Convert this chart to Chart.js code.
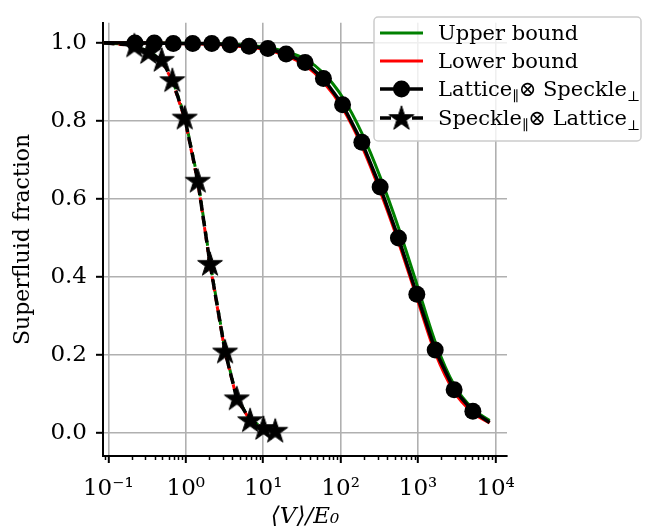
<!DOCTYPE html>
<html>
<head>
<meta charset="utf-8">
<script src="https://cdn.jsdelivr.net/npm/chart.js@4.4.0/dist/chart.umd.min.js"></script>
<style>
  html, body { margin: 0; padding: 0; background: #fff; }
</style>
</head>
<body>
<canvas id="chart" width="655" height="531"></canvas>
<script>
const xTicks = [0.1, 1, 10, 100, 1000, 10000];
const xTickLabels = ['10⁻¹', '10⁰', '10¹', '10²', '10³', '10⁴'];
const yTicks = [0, 0.2, 0.4, 0.6, 0.8, 1.0];

// Lattice_par x Speckle_perp (circles); first/last points have no marker
const latticeX = [0.087, 0.221, 0.393, 0.691, 1.23, 2.17, 3.73, 6.57, 11.5, 19.8, 34.8, 60, 106, 188, 324, 558, 964, 1664, 2925, 5104, 8400];
const latticeY = [1.0, 0.999, 0.999, 0.998, 0.998, 0.998, 0.995, 0.991, 0.985, 0.971, 0.949, 0.908, 0.841, 0.745, 0.630, 0.499, 0.355, 0.212, 0.110, 0.055, 0.026];
const latticeUpper = [1.0, 1.0, 0.999, 0.999, 0.998, 0.998, 0.996, 0.993, 0.988, 0.977, 0.958, 0.922, 0.860, 0.768, 0.656, 0.526, 0.381, 0.233, 0.122, 0.061, 0.031];
const latticeLower = [1.0, 0.999, 0.999, 0.998, 0.997, 0.996, 0.993, 0.988, 0.981, 0.966, 0.942, 0.899, 0.832, 0.735, 0.619, 0.489, 0.346, 0.205, 0.105, 0.051, 0.025];

// Speckle_par x Lattice_perp (stars); first point has no marker
const speckleX = [0.087, 0.217, 0.329, 0.49, 0.671, 0.97, 1.43, 2.06, 3.22, 4.56, 6.78, 10.07, 14.3];
const speckleY = [1.0, 0.993, 0.976, 0.956, 0.904, 0.808, 0.646, 0.433, 0.208, 0.088, 0.032, 0.012, 0.005];
const speckleUpper = [1.0, 0.994, 0.978, 0.958, 0.907, 0.811, 0.650, 0.437, 0.211, 0.090, 0.033, 0.013, 0.006];
const speckleLower = [1.0, 0.992, 0.975, 0.954, 0.902, 0.805, 0.643, 0.430, 0.206, 0.087, 0.031, 0.011, 0.005];

const FONT = '"DejaVu Serif", "Liberation Serif", serif';
const GREEN = '#008000';
const RED = '#ff0000';

// filled five point star used as marker
const starImg = document.createElement('canvas');
starImg.width = 30;
starImg.height = 30;
(function () {
  const c = starImg.getContext('2d');
  const R = 13, r = R * 0.382;
  c.beginPath();
  for (let i = 0; i < 10; i++) {
    const a = -Math.PI / 2 + i * Math.PI / 5;
    const rad = i % 2 === 0 ? R : r;
    const px = 15 + rad * Math.cos(a), py = 15.8 + rad * Math.sin(a);
    if (i === 0) c.moveTo(px, py); else c.lineTo(px, py);
  }
  c.closePath();
  c.fillStyle = '#000';
  c.fill();
  c.lineWidth = 1;
  c.strokeStyle = '#000';
  c.stroke();
})();

const pts = (xs, ys) => xs.map((x, i) => ({ x: x, y: ys[i] }));
const latticeRadius = latticeX.map((_, i) => (i === 0 || i === latticeX.length - 1) ? 0 : 8.5);
const speckleRadius = speckleX.map((_, i) => i === 0 ? 0 : 10);

const minorTicks = {
  id: 'minorTicks',
  afterDraw(chart) {
    const xs = chart.scales.x;
    const ctx = chart.ctx;
    const y0 = chart.chartArea.bottom;
    ctx.save();
    ctx.strokeStyle = '#000';
    ctx.lineWidth = 1.5;
    for (let n = -2; n <= 4; n++) {
      for (let m = 2; m <= 9; m++) {
        const v = m * Math.pow(10, n);
        if (v < xs.min || v > xs.max) continue;
        const px = Math.round(xs.getPixelForValue(v)) + 0.5;
        ctx.beginPath();
        ctx.moveTo(px, y0);
        ctx.lineTo(px, y0 + 4);
        ctx.stroke();
      }
    }
    ctx.restore();
  }
};

function drawRich(ctx, parts, x, y) {
  for (const [txt, sub] of parts) {
    ctx.font = (sub ? '14px ' : '21px ') + FONT;
    ctx.fillText(txt, x, sub ? y + 5 : y);
    x += ctx.measureText(txt).width;
  }
}

const boxLegend = {
  id: 'boxLegend',
  afterDraw(chart) {
    const ctx = chart.ctx;
    ctx.save();
    ctx.beginPath();
    ctx.roundRect(374, 17, 267, 124, 4);
    ctx.fillStyle = 'rgba(255,255,255,0.8)';
    ctx.fill();
    ctx.strokeStyle = '#cccccc';
    ctx.lineWidth = 1.5;
    ctx.stroke();

    const hx0 = 380, hx1 = 423, hxm = 401.5, tx = 438;
    const rows = [33, 61, 89, 118];
    ctx.lineWidth = 3;
    ctx.strokeStyle = GREEN;
    ctx.beginPath(); ctx.moveTo(hx0, rows[0]); ctx.lineTo(hx1, rows[0]); ctx.stroke();
    ctx.strokeStyle = RED;
    ctx.beginPath(); ctx.moveTo(hx0, rows[1]); ctx.lineTo(hx1, rows[1]); ctx.stroke();
    ctx.strokeStyle = '#000';
    ctx.lineWidth = 3.5;
    ctx.beginPath(); ctx.moveTo(hx0, rows[2]); ctx.lineTo(hx1, rows[2]); ctx.stroke();
    ctx.fillStyle = '#000';
    ctx.beginPath(); ctx.arc(hxm, rows[2], 8.5, 0, Math.PI * 2); ctx.fill();
    ctx.setLineDash([11, 5]);
    ctx.beginPath(); ctx.moveTo(hx0, rows[3]); ctx.lineTo(hx1, rows[3]); ctx.stroke();
    ctx.setLineDash([]);
    ctx.drawImage(starImg, hxm - 15, rows[3] - 15);

    ctx.fillStyle = '#000';
    ctx.textBaseline = 'alphabetic';
    ctx.textAlign = 'left';
    drawRich(ctx, [['Upper bound', 0]], tx, rows[0] + 7);
    drawRich(ctx, [['Lower bound', 0]], tx, rows[1] + 7);
    drawRich(ctx, [['Lattice', 0], ['∥', 1], ['⊗ Speckle', 0], ['⊥', 1]], tx, rows[2] + 7);
    drawRich(ctx, [['Speckle', 0], ['∥', 1], ['⊗ Lattice', 0], ['⊥', 1]], tx, rows[3] + 7);
    ctx.restore();
  }
};

new Chart(document.getElementById('chart').getContext('2d'), {
  type: 'line',
  data: {
    datasets: [
      {
        label: 'Upper bound', data: pts(latticeX, latticeUpper), borderColor: GREEN,
        borderWidth: 3, pointRadius: 0, cubicInterpolationMode: 'monotone', order: 5
      },
      {
        label: 'Lower bound', data: pts(latticeX, latticeLower), borderColor: RED,
        borderWidth: 3, pointRadius: 0, cubicInterpolationMode: 'monotone', order: 4
      },
      {
        label: 'Upper bound (speckle)', data: pts(speckleX, speckleUpper), borderColor: GREEN,
        borderWidth: 3, pointRadius: 0, borderDash: [5, 5], order: 5
      },
      {
        label: 'Lower bound (speckle)', data: pts(speckleX, speckleLower), borderColor: RED,
        borderWidth: 3, pointRadius: 0, borderDash: [5, 5], borderDashOffset: 5, order: 4
      },
      {
        label: 'Lattice x Speckle', data: pts(latticeX, latticeY), borderColor: '#000',
        backgroundColor: '#000', borderWidth: 3.5, pointRadius: latticeRadius,
        pointBorderWidth: 0, pointStyle: 'circle', order: 1
      },
      {
        label: 'Speckle x Lattice', data: pts(speckleX, speckleY), borderColor: '#000',
        backgroundColor: '#000', borderWidth: 3.5, borderDash: [11, 5],
        pointRadius: speckleRadius, pointStyle: starImg, order: 0
      }
    ]
  },
  options: {
    responsive: false,
    animation: false,
    devicePixelRatio: 1,
    layout: { padding: { left: 0, top: 10, right: 148, bottom: 0 } },
    plugins: { legend: { display: false }, tooltip: { enabled: false } },
    scales: {
      x: {
        type: 'logarithmic',
        min: 0.08541,
        max: 14083,
        afterFit: (s) => { s.height = 75; },
        afterBuildTicks: (s) => { s.ticks = xTicks.map(v => ({ value: v })); },
        ticks: {
          callback: (v, i) => xTickLabels[i],
          autoSkip: false, maxRotation: 0, padding: 12,
          color: '#000', font: { family: FONT, size: 23 }
        },
        grid: { color: '#b0b0b0', lineWidth: 1.6, tickColor: '#000', tickLength: 7, tickWidth: 2 },
        border: { color: '#000', width: 2 },
        title: {
          display: true, text: '⟨V⟩/E₀', color: '#000', padding: { top: 0, bottom: 0 },
          font: { family: FONT, size: 23, style: 'italic' }
        }
      },
      y: {
        type: 'linear',
        min: -0.0598,
        max: 1.051,
        afterFit: (s) => { s.width = 103; },
        afterBuildTicks: (s) => { s.ticks = yTicks.map(v => ({ value: v })); },
        ticks: {
          callback: (v) => v.toFixed(1), padding: 9,
          color: '#000', font: { family: FONT, size: 23 }
        },
        grid: { color: '#b0b0b0', lineWidth: 1.6, tickColor: '#000', tickLength: 7, tickWidth: 2 },
        border: { color: '#000', width: 2 },
        title: {
          display: true, text: 'Superfluid fraction', color: '#000', padding: { top: 10, bottom: 0 },
          font: { family: FONT, size: 22 }
        }
      }
    }
  },
  plugins: [minorTicks, boxLegend]
});
</script>
</body>
</html>
